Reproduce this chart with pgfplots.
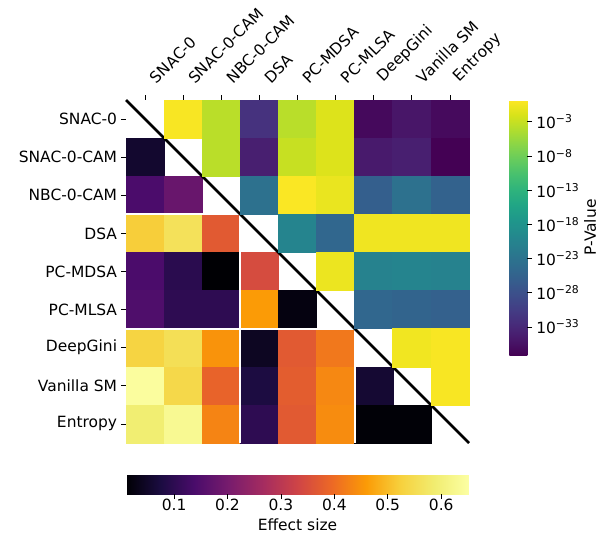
\documentclass[border=0pt]{standalone}
\usepackage{fontspec}
\setmainfont{DejaVu Sans}
\usepackage{pgfplots}
\pgfplotsset{compat=1.18}
\usepackage{pgfplotstable}
\usetikzlibrary{calc}

\pgfplotsset{
  colormap={inferno}{rgb255=(0,0,4) rgb255=(27,12,65) rgb255=(74,12,107) rgb255=(120,28,109) rgb255=(165,44,96) rgb255=(207,68,70) rgb255=(237,105,37) rgb255=(251,155,6) rgb255=(247,209,61) rgb255=(241,237,113) rgb255=(252,255,164)},
  /pgf/number format/assume math mode=true,
  every tick label/.append style={font=\fontsize{11.6}{13.5}\selectfont},
  every axis label/.append style={font=\fontsize{11.6}{13.5}\selectfont},
}

% lower triangle: effect size (x = column, y = row)
\pgfplotstableread{
x y e
0 1 0.055
0 2 0.14
1 2 0.18
0 3 0.52
1 3 0.56
2 3 0.37
0 4 0.14
1 4 0.095
2 4 0.01
3 4 0.345
0 5 0.145
1 5 0.10
2 5 0.10
3 5 0.46
4 5 0.023
0 6 0.53
1 6 0.555
2 6 0.45
3 6 0.042
4 6 0.37
5 6 0.415
0 7 0.645
1 7 0.54
2 7 0.385
3 7 0.075
4 7 0.375
5 7 0.435
6 7 0.06
0 8 0.59
1 8 0.63
2 8 0.43
3 8 0.10
4 8 0.37
5 8 0.44
6 8 0.013
7 8 0.013
}\lowertab

% upper triangle: log10 of p-value
\pgfplotstableread{
x y lp
1 0 -0.1
2 0 -3.6
3 0 -31.8
4 0 -3.7
5 0 -1.7
6 0 -36.3
7 0 -35.0
8 0 -36.2
2 1 -3.6
3 1 -34.0
4 1 -2.9
5 1 -1.7
6 1 -34.5
7 1 -34.0
8 1 -37.1
3 2 -23.3
4 2 0.0
5 2 -0.9
6 2 -25.9
7 2 -23.3
8 2 -25.5
4 3 -20.4
5 3 -24.8
6 3 -0.6
7 3 -0.6
8 3 -0.6
5 4 -0.8
6 4 -20.7
7 4 -20.3
8 4 -20.7
6 5 -24.8
7 5 -25.2
8 5 -25.6
7 6 -0.5
8 6 -0.1
8 7 -0.1
}\uppertab

\begin{document}
\begin{tikzpicture}
\useasboundingbox (0,0) rectangle (452.25pt,-402pt);
\begin{axis}[
  at={(94.5pt,-75pt)}, anchor=north west,
  scale only axis, width=257.25pt, height=257.25pt,
  xmin=-0.5, xmax=8.5, ymin=-0.5, ymax=8.5, y dir=reverse,
  axis line style={draw=none},
  xtick={0,1,2,3,4,5,6,7,8}, ytick={0,1,2,3,4,5,6,7,8},
  xticklabels={SNAC-0,SNAC-0-CAM,NBC-0-CAM,DSA,PC-MDSA,PC-MLSA,DeepGini,Vanilla SM,Entropy},
  yticklabels={SNAC-0,SNAC-0-CAM,NBC-0-CAM,DSA,PC-MDSA,PC-MLSA,DeepGini,Vanilla SM,Entropy},
  xtick pos=right, xticklabel pos=right, ytick pos=left,
  tick align=outside, major tick length=3.5pt,
  tick style={black, line width=0.6pt},
  xticklabel style={xshift=9pt, yshift=8pt, rotate=45, anchor=south west, inner sep=0pt},
  yticklabel style={inner sep=0pt, xshift=-3pt},
  colormap name=inferno, point meta min=0.01, point meta max=0.652,
  colorbar horizontal,
  colorbar style={
    at={($(parent axis.south west)+(0pt,-15.75pt)$)}, anchor=north west,
    width=257.25pt, height=14.25pt,
    axis line style={draw=none},
    xtick={0.1,0.2,0.3,0.4,0.5,0.6},
    xticklabel style={/pgf/number format/fixed, /pgf/number format/precision=1, /pgf/number format/fixed zerofill, inner sep=0pt, yshift=0pt},
    xtick pos=left, xticklabel pos=left,
    tick align=outside, major tick length=3.5pt,
    tick style={black, line width=0.6pt},
    xlabel={Effect size},
    xlabel style={yshift=-2pt},
  },
]
\addplot[scatter, only marks, mark=square*, mark size=14.3pt,
  scatter/use mapped color={draw=mapped color, fill=mapped color},
  point meta=explicit] table[x=x, y=y, meta=e] {\lowertab};
\end{axis}

\begin{axis}[
  at={(94.5pt,-75pt)}, anchor=north west,
  scale only axis, width=257.25pt, height=257.25pt,
  xmin=-0.5, xmax=8.5, ymin=-0.5, ymax=8.5, y dir=reverse,
  axis line style={draw=none}, xtick=\empty, ytick=\empty,
  clip=false,
  colormap name=viridis, point meta min=-37.1, point meta max=0.2,
  colorbar,
  colorbar style={
    at={($(parent axis.north east)+(21.75pt,0pt)$)}, anchor=north west,
    width=13.5pt, height=191.25pt,
    axis line style={draw=none},
    ytick={-3,-8,-13,-18,-23,-28,-33},
    yticklabels={10\textsuperscript{−3},10\textsuperscript{−8},10\textsuperscript{−13},10\textsuperscript{−18},10\textsuperscript{−23},10\textsuperscript{−28},10\textsuperscript{−33}},
    ytick pos=right, yticklabel pos=right,
    yticklabel style={inner sep=0pt, xshift=3pt},
    tick align=outside, major tick length=3.5pt,
    tick style={black, line width=0.6pt},
    ylabel={P-Value}, ylabel near ticks,
  },
]
\addplot[scatter, only marks, mark=square*, mark size=14.3pt,
  scatter/use mapped color={draw=mapped color, fill=mapped color},
  point meta=explicit] table[x=x, y=y, meta=lp] {\uppertab};
\addplot[white, line width=1.6pt] coordinates {(2.5,-0.5) (2.5,8.5)};
\addplot[white, line width=1.6pt] coordinates {(5.5,-0.5) (5.5,8.5)};
\addplot[white, line width=1.6pt] coordinates {(-0.5,2.5) (8.5,2.5)};
\addplot[white, line width=1.6pt] coordinates {(-0.5,5.5) (8.5,5.5)};
\addplot[black, line width=2pt] coordinates {(-0.5,-0.5) (8.5,8.5)};
\end{axis}
\end{tikzpicture}
\end{document}
